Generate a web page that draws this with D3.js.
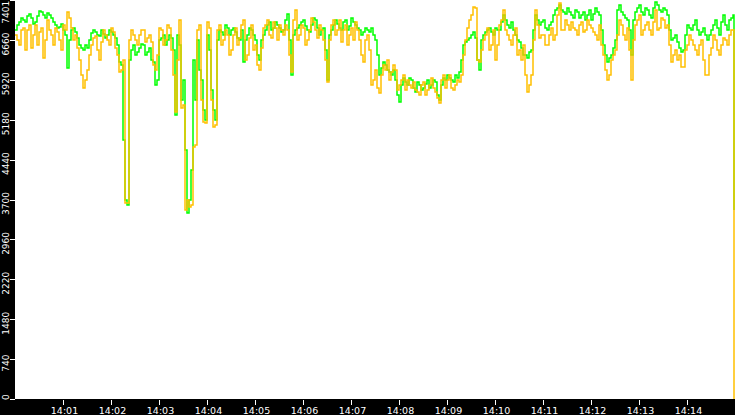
<!DOCTYPE html>
<html><head><meta charset="utf-8">
<script src="https://cdn.jsdelivr.net/npm/d3@7"></script>
<style>html,body{margin:0;padding:0;background:#000;overflow:hidden}</style>
</head><body>
<svg id="c" width="735" height="415"></svg>
<script>
// ---- data: samples every 2.5 s from 14:00:00; final sample at 14:14:58.75 ----
const startTime = "14:00:00";
const endTime = "14:15:00";
const stepSeconds = 2.5;
const lastSecond = 898.75;
const xTickLabels = ["14:01","14:02","14:03","14:04","14:05","14:06","14:07","14:08","14:09","14:10","14:11","14:12","14:13","14:14"];
const yTickValues = [0,740,1480,2220,2960,3700,4440,5180,5920,6660,7401];
const yMax = 7401;

const greenValues = [
6845,6938,6993,7067,7030,6993,7105,7142,7067,6956,6993,7105,7197,7179,7123,7067,7160,7123,7067,6993,
6938,6882,6901,6956,6845,6752,6140,6660,6845,6882,6808,6697,6567,6511,6474,6567,6511,6660,6789,6845,
6808,6752,6734,6845,6771,6697,6752,6845,6808,6752,6697,6567,6251,6195,4804,3691,3599,6288,6474,6567,
6381,6437,6511,6585,6567,6381,6437,6511,6288,6251,5825,5917,6660,6697,6752,6567,6660,6752,6697,6474,
5268,6752,6567,5546,5918,4619,3451,3691,4248,6288,5546,6660,6103,5917,5361,5175,6752,6474,5732,5361,
5175,6660,6845,6808,6752,6938,6882,6752,6845,6882,6808,6697,6660,6845,6251,6660,6752,6882,6845,6752,
6660,6381,6288,6660,6752,6845,6938,6993,6845,6882,6993,6938,6882,6808,6845,7030,7142,6660,6010,6752,
6845,6882,6938,6993,7030,6919,6845,6808,6938,7067,7030,6882,6752,6845,6882,6474,5918,6752,6845,6938,
7030,6956,6882,6845,6993,7030,6845,6919,7067,6993,6938,6882,6845,6752,6808,6882,6845,6808,6882,6752,
6660,6381,6010,6140,6251,6195,6103,6065,6010,6103,5918,5639,5509,5825,5955,5880,5825,5954,5918,5769,
5695,5880,5825,5732,5769,5843,5918,5769,5825,5917,5880,5639,5546,5825,5955,5917,6010,5954,5918,5880,
6010,5954,6066,6288,6567,6622,6660,6697,6752,6808,6697,6288,6103,6660,6752,6808,6845,6882,6808,6752,
6882,6845,6845,6993,7123,7030,6938,6882,6993,6845,6752,6660,6622,6511,6381,6381,6326,6437,6474,6845,
7123,7030,6938,6993,7030,6882,6845,6938,6993,7123,7216,7253,7308,7216,7179,7142,7253,7179,7123,7067,
7216,7179,7067,7123,7179,7030,7123,7216,7030,7142,7253,7179,7123,6845,6567,6381,6251,6325,6381,6511,
6660,7216,7308,7179,7123,7067,7030,6845,6381,7030,7179,7253,7308,7179,7123,7253,7216,7123,7067,7253,
7364,7308,7216,7179,7253,7216,7123,6845,6660,6697,6752,6622,6511,6437,6474,6752,6938,6882,6845,6938,
7030,6845,6752,6808,6882,6752,6660,6752,6845,6938,7030,6882,6752,6993,7123,6938,6845,7030,7067,7123,
3506];

const yellowValues = [
6752,6660,6567,6845,6882,6474,6845,6938,6511,6752,6938,6567,6808,6882,6326,6660,7030,6845,6752,6567,
6882,6808,6660,6474,6938,6845,7179,7067,6882,6660,6752,6511,6288,6010,5769,5917,6103,6381,6567,6697,
6734,6474,6288,6622,6845,6752,6660,6567,6882,6808,6511,6381,6066,6103,6288,3636,3636,6660,6845,6752,
6660,6567,6752,6845,6845,6622,6697,6752,6622,6195,6103,6381,6882,6845,6567,6660,6938,6882,6474,6010,
5324,6288,7030,5398,5454,3505,3691,3561,3599,4674,4712,6845,6938,5546,5138,5119,6993,6882,5546,5045,
5083,6845,6938,6567,6660,6845,6752,6381,6474,6752,6882,6567,6697,6938,7030,6288,6381,6697,6938,6474,
6567,6195,6103,6511,6882,6938,7030,6752,6697,6993,6882,6660,6938,6845,6752,6938,6845,6381,6066,7030,
7216,6660,6752,6938,6882,6567,6660,6845,7067,6993,6845,6697,6938,6845,6660,6288,5880,6660,6938,7030,
6752,6845,7030,6622,6845,6938,6567,6752,6882,6660,6993,6845,6660,6381,6251,6660,6752,6474,5825,5917,
6103,5769,5676,6010,6196,6103,6288,5917,6066,6195,6103,5732,5825,5917,6010,5732,5918,5825,5769,5880,
5732,5695,5639,5825,5880,5639,5732,5825,5955,5769,5695,5583,5491,5917,6010,5769,5918,6010,5769,5732,
5825,5917,5880,6010,6381,6660,6882,7030,7123,7271,7253,6288,6251,6474,6660,6752,6882,6474,6567,6845,
6288,6567,6938,7030,7216,6845,6752,6660,6567,6752,6882,6381,6474,6288,6567,6010,5695,5825,6010,6660,
7216,6938,6697,6752,6752,6567,6567,6752,6882,6660,6752,7123,7346,6845,6845,7030,6938,6845,6993,6882,
6845,6752,6938,6993,6808,6845,7030,6938,6882,6808,6752,6660,6938,6567,6381,6103,5918,6010,6288,6381,
6474,6752,7030,6938,6752,6660,6882,6474,5918,6660,6938,7030,7123,6752,6845,6938,6993,6845,6752,6993,
7216,6845,6882,7067,7030,6882,6938,6567,6251,6381,6474,6288,6381,6158,6159,6474,6567,6752,6660,6567,
6474,6381,6567,6660,6288,6010,6010,6381,6511,6752,6660,6474,6381,6567,6697,6660,6567,6752,6845,6845,
0];

const seriesColors = {green:"#00ff00", yellow:"#ffc000"};

// ---- layout ----
const W = 735, H = 415;
const plotLeft = 15, plotBottom = 399;
const svg = d3.select("#c");
svg.append("rect").attr("x",0).attr("y",0).attr("width",W).attr("height",H).attr("fill","#000");
svg.append("rect").attr("x",plotLeft).attr("y",0).attr("width",W-plotLeft).attr("height",plotBottom).attr("fill","#fff");
svg.append("clipPath").attr("id","plotclip").append("rect")
  .attr("x",plotLeft).attr("y",0).attr("width",W-plotLeft).attr("height",plotBottom);

const parse = d3.timeParse("%H:%M:%S");
const t0 = parse(startTime), t1 = parse(endTime);
const x = d3.scaleTime().domain([t0,t1]).range([plotLeft,W]);
const y = d3.scaleLinear().domain([0,yMax]).range([plotBottom,0]);
const timeAt = i => new Date(+t0 + Math.min(i*stepSeconds,lastSecond)*1000);

const plot = svg.append("g").attr("clip-path","url(#plotclip)");
const line = d3.line().x(d=>Math.round(x(d.t))).y(d=>Math.round(y(d.v))).curve(d3.curveStepAfter);
function draw(vals,color){
  const pts = vals.map((v,i)=>({t:timeAt(i),v}));
  plot.append("path").datum(pts).attr("d",line)
    .attr("fill","none").attr("stroke",color).attr("stroke-width",1.5);
}
draw(greenValues, seriesColors.green);
draw(yellowValues, seriesColors.yellow);

// ---- x axis ----
const xg = svg.append("g");
xTickLabels.forEach(lbl=>{
  const xp = Math.round(x(parse(lbl+":00")))+0.5;
  xg.append("line").attr("x1",xp).attr("x2",xp).attr("y1",400).attr("y2",405)
    .attr("stroke","#fff").attr("stroke-width",1).attr("shape-rendering","crispEdges");
  xg.append("text").attr("x",xp+1).attr("y",414).attr("text-anchor","middle")
    .attr("fill","#fff").attr("font-family","DejaVu Sans").attr("font-size","9.5px").text(lbl);
});

// ---- y axis ----
const yg = svg.append("g");
yTickValues.forEach(v=>{
  const yp = Math.round(y(v))+0.5;
  yg.append("line").attr("x1",10).attr("x2",15).attr("y1",yp).attr("y2",yp)
    .attr("stroke","#fff").attr("stroke-width",1).attr("shape-rendering","crispEdges");
  const lbl = String(v);
  const len = lbl.length*5.6;
  const cy = Math.max(len/2+1, Math.min(plotBottom+1-len/2, y(v)+4));
  yg.append("text").attr("transform",`translate(9,${cy}) rotate(-90)`)
    .attr("text-anchor","middle").attr("fill","#fff")
    .attr("font-family","DejaVu Sans").attr("font-size","9px").text(lbl);
});
</script>
</body></html>
